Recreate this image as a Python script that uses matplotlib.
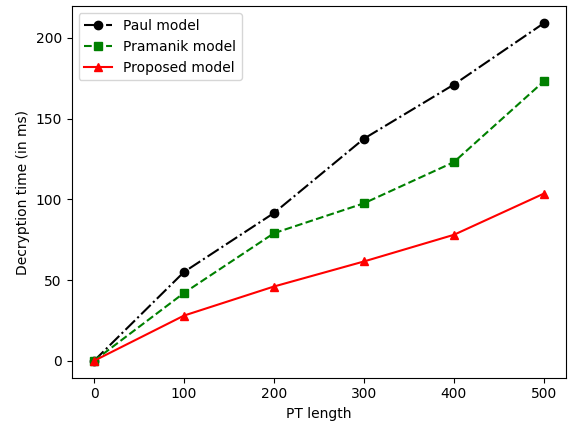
import matplotlib
matplotlib.use("Agg")
import matplotlib.pyplot as plt

pt_length = [0, 100, 200, 300, 400, 500]
paul = [0, 55, 91.5, 137.5, 171, 209]
pramanik = [0, 42, 79, 97.5, 123, 173]
proposed = [0, 28, 46, 61.5, 78, 103.5]

fig, ax = plt.subplots(figsize=(5.68, 4.22), dpi=100)
fig.subplots_adjust(left=0.126, right=0.997, top=0.985, bottom=0.105)

ax.plot(pt_length, paul, 'k-.', marker='o', label='Paul model')
ax.plot(pt_length, pramanik, 'g--', marker='s', label='Pramanik model')
ax.plot(pt_length, proposed, 'r-', marker='^', label='Proposed model')

ax.set_xlabel('PT length')
ax.set_ylabel('Decryption time (in ms)')
ax.legend(loc='upper left')

fig.savefig('out.png')
